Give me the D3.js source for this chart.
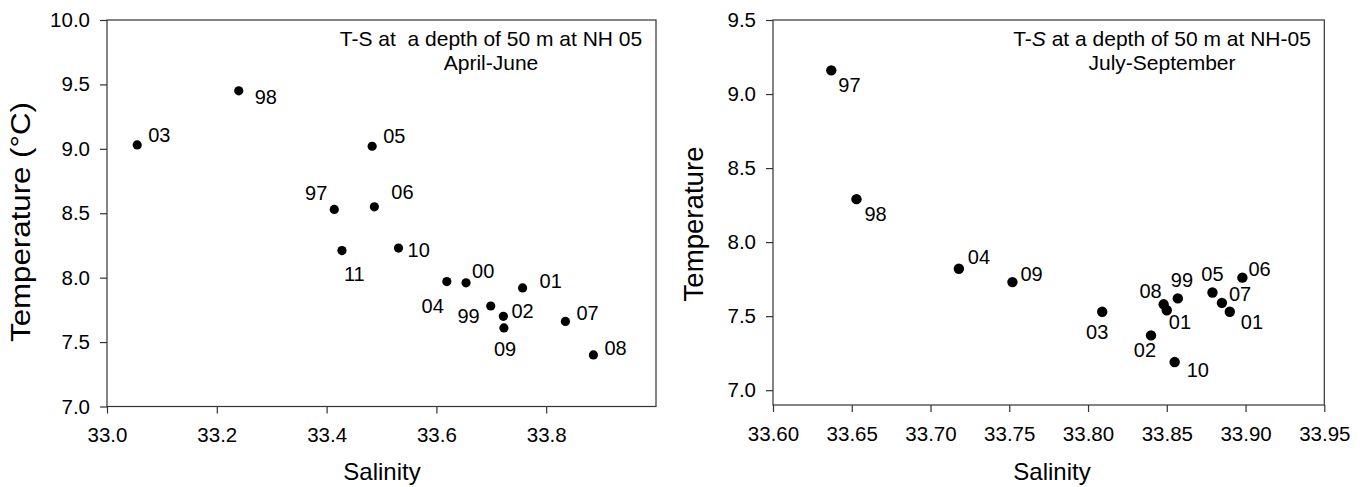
<!DOCTYPE html>
<html>
<head>
<meta charset="utf-8">
<script src="https://cdn.jsdelivr.net/npm/d3@7"></script>
<style>
  body { margin: 0; background: #fff; }
  svg { display: block; }
  text { font-family: "Liberation Sans", Arial, sans-serif; fill: #000; }
</style>
</head>
<body>
<svg id="chart" width="1367" height="487"></svg>
<script>
// ---- April-June: T-S at 50 m, station NH 05 ----
const springYears       = ["03", "98", "05", "97", "06", "11", "10", "04", "00", "01", "99", "02", "09", "07", "08"];
const springSalinity    = [33.055, 33.240, 33.483, 33.414, 33.487, 33.428, 33.531, 33.619, 33.654, 33.757, 33.699, 33.722, 33.723, 33.835, 33.886];
const springTemperature = [9.03, 9.45, 9.02, 8.53, 8.55, 8.21, 8.23, 7.97, 7.96, 7.92, 7.78, 7.70, 7.61, 7.66, 7.40];
const springSalinityTicks = [33.0, 33.2, 33.4, 33.6, 33.8];
const springTempTicks     = [7.0, 7.5, 8.0, 8.5, 9.0, 9.5, 10.0];

// ---- July-September: T-S at 50 m, station NH-05 ----
const summerYears       = ["97", "98", "04", "09", "03", "08", "01", "99", "02", "10", "05", "07", "01", "06"];
const summerSalinity    = [33.637, 33.653, 33.718, 33.752, 33.809, 33.848, 33.850, 33.857, 33.840, 33.855, 33.879, 33.885, 33.890, 33.898];
const summerTemperature = [9.16, 8.29, 7.82, 7.73, 7.53, 7.58, 7.54, 7.62, 7.37, 7.19, 7.66, 7.59, 7.53, 7.76];
const summerSalinityTicks = [33.60, 33.65, 33.70, 33.75, 33.80, 33.85, 33.90, 33.95];
const summerTempTicks     = [7.0, 7.5, 8.0, 8.5, 9.0, 9.5];

// Year-label nudges (anchor, dx, dy from the dot centre to the text baseline)
const springLabelNudge = [
  ["start", 11, -3], ["start", 16, 13], ["start", 11, -3], ["end", -7, -9], ["start", 17, -8],
  ["start", 2, 30], ["start", 9, 9], ["end", -3, 31], ["start", 6, -5], ["start", 17, 0],
  ["end", -11, 17], ["start", 8, 2], ["start", -10, 28], ["start", 11, -1], ["start", 11, 0]
];
const summerLabelNudge = [
  ["start", 7, 22], ["start", 8, 22], ["start", 9, -5], ["start", 8, -1], ["middle", -5, 27],
  ["end", -2, -6], ["start", 2, 19], ["start", -7, -11], ["end", 5, 22], ["start", 12, 15],
  ["middle", 0, -11], ["start", 7, -2], ["start", 11, 17], ["start", 6, -2]
];

const FONT = '"Liberation Sans", Arial, sans-serif';
const svg = d3.select("#chart");

function drawPanel(cfg) {
  const g = svg.append("g");
  const x = d3.scaleLinear().domain(cfg.xDomain).range([cfg.left, cfg.right]);
  const y = d3.scaleLinear().domain(cfg.yDomain).range([cfg.bottom, cfg.top]);

  // frame
  g.append("rect")
    .attr("x", cfg.left).attr("y", cfg.top)
    .attr("width", cfg.right - cfg.left).attr("height", cfg.bottom - cfg.top)
    .attr("fill", "none").attr("stroke", "#333").attr("stroke-width", 1.2);

  // x axis
  const xa = g.append("g")
    .attr("transform", `translate(0,${cfg.bottom})`)
    .call(d3.axisBottom(x).tickValues(cfg.xTicks).tickFormat(d3.format(cfg.xFormat))
      .tickSizeInner(7).tickSizeOuter(0).tickPadding(14));
  xa.select(".domain").remove();
  xa.selectAll("line").attr("stroke", "#333").attr("stroke-width", 1.2);
  xa.selectAll("text").attr("font-size", 20.5).attr("fill", "#000").style("font-family", FONT);

  // y axis
  const ya = g.append("g")
    .attr("transform", `translate(${cfg.left},0)`)
    .call(d3.axisLeft(y).tickValues(cfg.yTicks).tickFormat(d3.format(".1f"))
      .tickSizeInner(7).tickSizeOuter(0).tickPadding(10));
  ya.select(".domain").remove();
  ya.selectAll("line").attr("stroke", "#333").attr("stroke-width", 1.2);
  ya.selectAll("text").attr("font-size", 20.5).attr("fill", "#000").style("font-family", FONT);

  // axis titles
  g.append("text")
    .attr("x", cfg.xTitleX).attr("y", 480)
    .attr("text-anchor", "middle").attr("font-size", 24)
    .text("Salinity");
  g.append("text")
    .attr("transform", `translate(${cfg.yTitleX},${cfg.yTitleY}) rotate(-90)`)
    .attr("text-anchor", "middle").attr("font-size", cfg.yTitleSize)
    .attr("textLength", cfg.yTitleLength).attr("lengthAdjust", "spacingAndGlyphs")
    .text(cfg.yTitle);

  // in-plot title, two lines
  const t = g.append("text")
    .attr("text-anchor", "middle").attr("font-size", 21)
    .attr("x", cfg.titleX).attr("y", 46)
    .style("white-space", "pre");
  cfg.titleLine1(t);
  g.append("text")
    .attr("text-anchor", "middle").attr("font-size", 21)
    .attr("x", cfg.titleX).attr("y", 70)
    .text(cfg.titleLine2);

  // dots
  const pts = cfg.years.map((yr, i) => ({ yr, s: cfg.sal[i], t: cfg.temp[i], nudge: cfg.nudge[i] }));
  g.append("g").selectAll("circle").data(pts).join("circle")
    .attr("cx", d => x(d.s)).attr("cy", d => y(d.t))
    .attr("r", cfg.r).attr("fill", "#000");

  // year labels
  g.append("g").selectAll("text").data(pts).join("text")
    .attr("x", d => x(d.s) + d.nudge[1])
    .attr("y", d => y(d.t) + d.nudge[2])
    .attr("text-anchor", d => d.nudge[0])
    .attr("font-size", 20)
    .text(d => d.yr);
}

drawPanel({
  left: 107, right: 656, top: 20, bottom: 406.5,
  xDomain: [33.0, 34.0], yDomain: [7.0, 10.0],
  xTicks: springSalinityTicks, yTicks: springTempTicks, xFormat: ".1f",
  years: springYears, sal: springSalinity, temp: springTemperature, nudge: springLabelNudge,
  r: 4.6, xTitleX: 382,
  yTitle: "Temperature (°C)", yTitleX: 30, yTitleY: 222, yTitleSize: 27, yTitleLength: 240,
  titleX: 491,
  titleLine1: t => t.text("T-S at  a depth of 50 m at NH 05"),
  titleLine2: "April-June"
});

drawPanel({
  left: 773, right: 1324.3, top: 20, bottom: 405,
  xDomain: [33.60, 33.95], yDomain: [6.9, 9.5],
  xTicks: summerSalinityTicks, yTicks: summerTempTicks, xFormat: ".2f",
  years: summerYears, sal: summerSalinity, temp: summerTemperature, nudge: summerLabelNudge,
  r: 5.2, xTitleX: 1052,
  yTitle: "Temperature", yTitleX: 703, yTitleY: 224, yTitleSize: 27, yTitleLength: 155,
  titleX: 1162,
  titleLine1: t => {
    t.append("tspan").text("T-");
    t.append("tspan").attr("font-style", "italic").text("S");
    t.append("tspan").text(" at a depth of 50 m at NH-05");
  },
  titleLine2: "July-September"
});
</script>
</body>
</html>
